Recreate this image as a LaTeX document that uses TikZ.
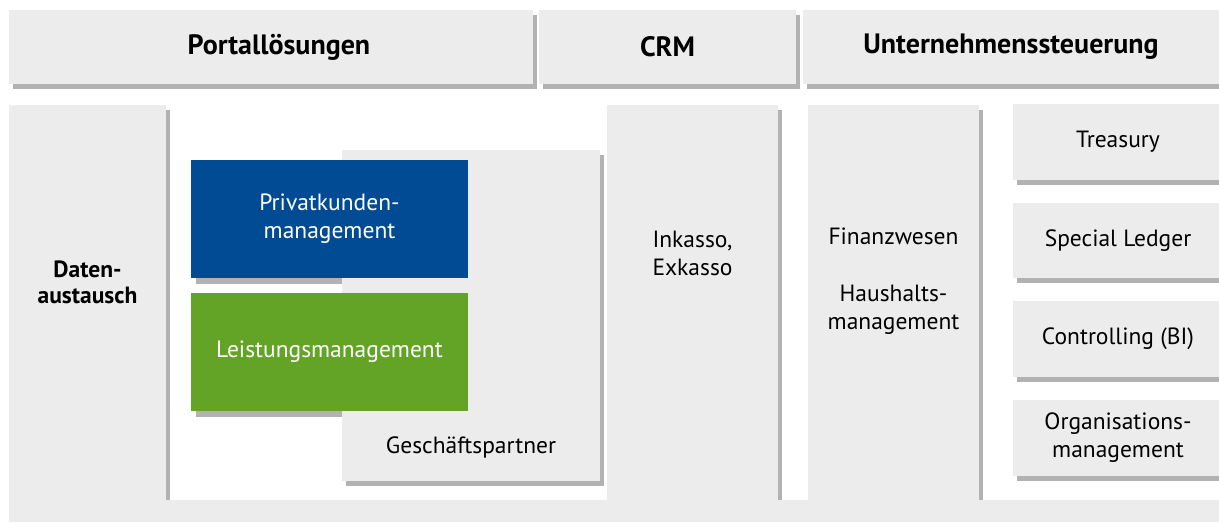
\documentclass[tikz,border=0pt]{standalone}
\usepackage{fontspec}
\setmainfont{PT Sans}
\usepackage{xcolor}
\usetikzlibrary{shadows,backgrounds}
\definecolor{boxgrey}{HTML}{EBECEB}
\definecolor{boxblue}{HTML}{004B93}
\definecolor{boxgreen}{HTML}{63A325}
\begin{document}
\begin{tikzpicture}[x=1pt,y=-1pt,
    main node/.style={rectangle,fill=boxgrey,anchor=north west,inner sep=0pt,outer sep=0pt,align=center,font=\fontsize{23.5}{28}\selectfont},
    shadow node/.style={main node,drop shadow={shadow xshift=4pt,shadow yshift=-5pt,fill=black,opacity=.3}},
    head node/.style={shadow node,minimum height=74pt,font=\bfseries\fontsize{28}{30}\selectfont},
    text node/.style={inner sep=0pt,align=center,font=\fontsize{23.5}{28}\selectfont}]
  \useasboundingbox (0,0) rectangle (1219,524);
  \node[head node,minimum width=524pt] (1) at (9,10) {\hspace*{16pt}Portallösungen};
  \node[head node,minimum width=257pt] (2) at (539,10) {CRM};
  \node[head node,minimum width=420pt] (3) at (803,10) {Unternehmenssteuerung\hspace*{4pt}};
  \node[shadow node,minimum width=157pt,minimum height=395pt] (4) at (9,105) {};
  \node[shadow node,minimum width=171pt,minimum height=395pt] (8) at (607,105) {};
  \node[shadow node,minimum width=171pt,minimum height=395pt] (9) at (808,105) {};
  \node[main node,minimum width=1210pt,minimum height=22pt] (14) at (9,500) {};
  \node[text node,font=\bfseries\fontsize{23.5}{26}\selectfont] (4t) at (87.5,282) {Daten-\\austausch};
  \node[text node] (8t) at (692.5,253) {Inkasso,\\Exkasso};
  \node[text node] (9t) at (893.5,281) {Finanzwesen\\[29pt]Haushalts-\\management};
  \node[shadow node,minimum width=258pt,minimum height=331pt] (5) at (342,150) {};
  \node[text node] (5t) at (471,447) {Geschäftspartner};
  \node[main node,fill=boxblue,text=white,minimum width=277pt,minimum height=118pt] (6) at (191,160) {Privatkunden-\\management};
  \node[main node,fill=boxgreen,text=white,minimum width=277pt,minimum height=118pt] (7) at (191,293) {Leistungsmanagement};
  \begin{scope}[on background layer]
    \fill[black,opacity=.3] ([xshift=5pt]6.south west) rectangle ([yshift=-6pt]6.south east);
    \fill[black,opacity=.3] ([xshift=5pt]7.south west) rectangle ([yshift=-6pt]7.south east);
  \end{scope}
  \node[shadow node,minimum width=210pt,minimum height=76pt] (10) at (1013,104) {Treasury};
  \node[shadow node,minimum width=210pt,minimum height=75pt] (11) at (1013,203) {Special Ledger};
  \node[shadow node,minimum width=210pt,minimum height=76pt] (12) at (1013,301) {Controlling (BI)};
  \node[shadow node,minimum width=210pt,minimum height=76pt] (13) at (1013,400) {Organisations-\\management};
\end{tikzpicture}
\end{document}
